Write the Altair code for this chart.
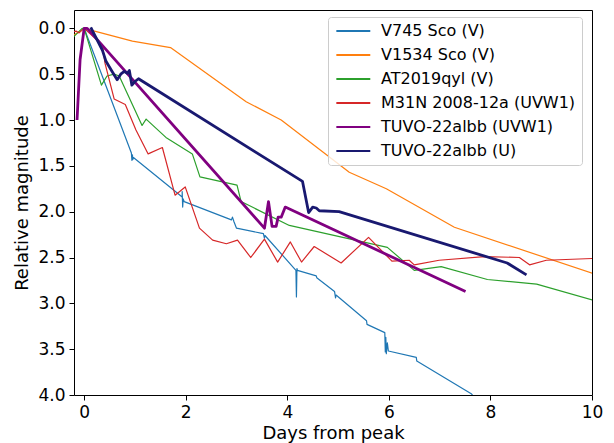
import altair as alt
import pandas as pd

names = ["V745 Sco (V)", "V1534 Sco (V)", "AT2019qyl (V)",
         "M31N 2008-12a (UVW1)", "TUVO-22albb (UVW1)", "TUVO-22albb (U)"]
colors = ["#1f77b4", "#ff7f0e", "#2ca02c", "#d62728", "#800080", "#191970"]
widths = [1.2, 1.2, 1.2, 1.2, 2.8, 2.8]

v745_x = [0.0, 0.93, 0.94, 0.95, 0.96, 0.97, 1.93, 1.93, 1.94, 1.95, 1.97, 2.90, 2.92,
          2.95, 3.00, 3.53, 3.55, 3.56, 4.17, 4.18, 4.19, 4.20, 4.57, 4.58, 4.93, 4.95,
          4.96, 5.56, 5.57, 5.92, 5.93, 5.94, 5.95, 5.97, 5.99, 6.54, 6.55, 7.63, 7.75]
v745_y = [0.0, 1.36, 1.44, 1.38, 1.43, 1.41, 1.84, 1.78, 1.95, 1.86, 1.89, 2.09, 2.06,
          2.11, 2.18, 2.24, 2.29, 2.26, 2.64, 2.93, 2.62, 2.64, 2.70, 2.72, 2.87, 2.94,
          2.91, 3.19, 3.23, 3.32, 3.53, 3.37, 3.55, 3.43, 3.52, 3.59, 3.63, 3.99, 4.08]

v1534_x = [-0.22, 0.0, 0.95, 1.70, 3.19, 3.88, 5.22, 5.95, 7.29, 10.05]
v1534_y = [0.08, 0.0, 0.14, 0.21, 0.80, 1.00, 1.57, 1.75, 2.17, 2.68]

at_x = [-0.22, -0.04, 0.0, 0.34, 0.45, 0.59, 0.69, 1.14, 1.22, 1.61, 2.13, 2.28, 3.01,
        3.09, 4.04, 5.97, 6.50, 7.03, 7.94, 8.91, 10.05]
at_y = [0.10, 0.0, 0.0, 0.62, 0.52, 0.50, 0.52, 1.06, 0.99, 1.19, 1.37, 1.62, 1.71,
        1.89, 2.15, 2.39, 2.64, 2.60, 2.74, 2.79, 2.97]

m31_x = [-0.22, -0.16, -0.10, 0.0, 0.20, 0.36, 0.41, 0.59, 0.81, 1.02, 1.26, 1.54, 1.79,
         1.99, 2.27, 2.53, 2.80, 3.02, 3.28, 3.55, 3.81, 4.06, 4.28, 4.53, 5.06, 5.60,
         6.06, 6.40, 6.50, 6.99, 7.88, 8.57, 8.77, 9.10, 10.05]
m31_y = [0.04, 0.03, 0.05, 0.0, 0.10, 0.18, 0.38, 0.77, 0.83, 1.11, 1.37, 1.30, 1.82,
         1.73, 2.18, 2.31, 2.35, 2.31, 2.50, 2.30, 2.55, 2.33, 2.55, 2.38, 2.56, 2.28,
         2.54, 2.53, 2.58, 2.53, 2.49, 2.50, 2.58, 2.53, 2.51]

tuvo_w1_x = [-0.14, -0.08, 0.0, 0.06, 3.55, 3.63, 3.70, 3.78, 3.82, 3.88, 3.96, 7.51]
tuvo_w1_y = [1.0, 0.34, 0.0, 0.0, 2.18, 1.89, 2.16, 2.16, 2.06, 2.06, 1.95, 2.87]

tuvo_u_x = [0.13, 0.36, 0.43, 0.55, 0.65, 0.72, 0.79, 0.85, 0.89, 0.94, 1.00, 1.07,
            4.30, 4.42, 4.50, 4.57, 4.63, 5.02, 8.33, 8.71]
tuvo_u_y = [-0.01, 0.24, 0.36, 0.47, 0.56, 0.50, 0.47, 0.49, 0.46, 0.62, 0.58, 0.55,
            1.67, 2.01, 1.95, 1.96, 1.99, 2.00, 2.56, 2.69]

xs_all = [v745_x, v1534_x, at_x, m31_x, tuvo_w1_x, tuvo_u_x]
ys_all = [v745_y, v1534_y, at_y, m31_y, tuvo_w1_y, tuvo_u_y]

x_ticks = [0, 2, 4, 6, 8, 10]
y_ticks = [0.0, 0.5, 1.0, 1.5, 2.0, 2.5, 3.0, 3.5, 4.0]

rows = []
for n, w, xs, ys in zip(names, widths, xs_all, ys_all):
    for i, (a, b) in enumerate(zip(xs, ys)):
        rows.append({"series": n, "days": a, "mag": b, "idx": i, "w": w})
df = pd.DataFrame(rows)

FONT = "DejaVu Sans"

leg = alt.Legend(
    title=None, orient="none", legendX=254, legendY=7, padding=6,
    symbolType="M-1,0H5", symbolSize=128, labelOffset=31, symbolStrokeWidth=2.2,
    labelFontSize=16, labelFont=FONT, labelColor="black",
    rowPadding=8, fillColor="rgba(255,255,255,0.8)", strokeColor="#cccccc",
    cornerRadius=3, labelLimit=400,
)

chart = alt.Chart(df).mark_line(clip=True, strokeJoin="round").encode(
    x=alt.X("days:Q",
            scale=alt.Scale(domain=[-0.2, 10], nice=False, zero=False),
            axis=alt.Axis(values=x_ticks, format="d", title="Days from peak",
                          labelFlush=False)),
    y=alt.Y("mag:Q",
            scale=alt.Scale(domain=[-0.2, 4.0], reverse=True, nice=False, zero=False),
            axis=alt.Axis(values=y_ticks, format=".1f", title="Relative magnitude",
                          labelFlush=False)),
    color=alt.Color("series:N", scale=alt.Scale(domain=names, range=colors), legend=leg),
    strokeWidth=alt.StrokeWidth("w:Q", scale=None),
    detail="series:N",
    order="idx:Q",
).properties(
    width=518, height=385,
    autosize=alt.AutoSizeParams(type="none"),
    padding={"left": 66, "top": 2, "right": 14, "bottom": 48},
).configure_view(
    stroke="black", strokeWidth=1
).configure_axis(
    grid=False, domain=False,
    labelFont=FONT, labelFontSize=17, labelColor="black",
    titleFont=FONT, titleFontSize=18, titleFontWeight="normal", titleColor="black",
    tickColor="black", tickSize=5, tickWidth=1, labelPadding=4,
).configure_axisX(
    titlePadding=4
).configure_axisY(
    titlePadding=6
)

chart.save("out.html", embed_options={"renderer": "svg", "actions": False})
